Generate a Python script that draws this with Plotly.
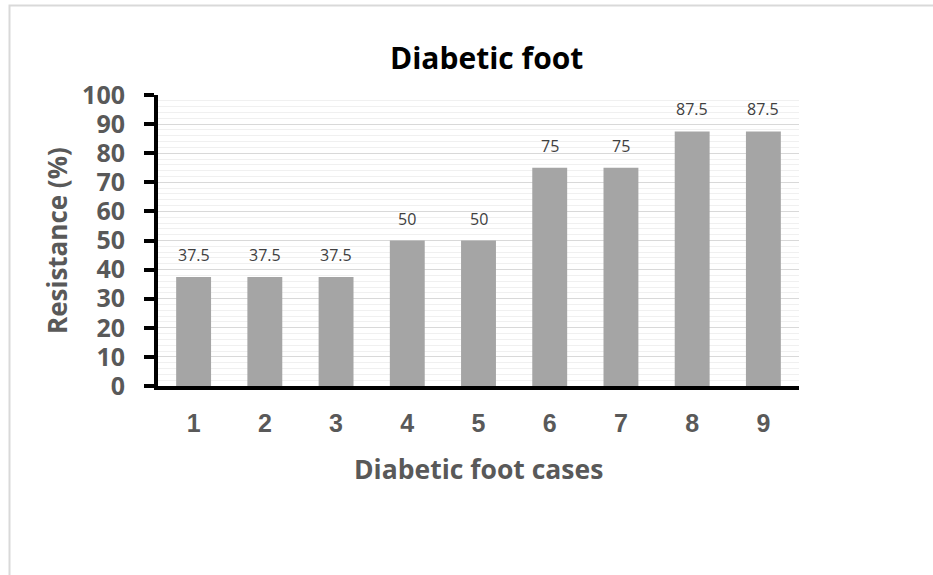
import plotly.graph_objects as go

categories = [1, 2, 3, 4, 5, 6, 7, 8, 9]
resistance = [37.5, 37.5, 37.5, 50, 50, 75, 75, 87.5, 87.5]
y_ticks = [0, 10, 20, 30, 40, 50, 60, 70, 80, 90, 100]

W, H = 933, 575
L, T = 158, 95
pw, ph = 641, 291
R, B = W - L - pw, H - T - ph

def px_x(p):
    return (p - L) / pw

def px_y(p):
    return (T + ph - p) / ph

fig = go.Figure()
fig.add_trace(go.Bar(
    x=categories, y=resistance,
    marker=dict(color="#a5a5a5", line=dict(width=0)),
    hoverinfo="x+y",
))

for c, v in zip(categories, resistance):
    fig.add_annotation(
        x=c, y=v, xref="x", yref="y",
        text=f"{v:g}", showarrow=False,
        yanchor="middle", yshift=22,
        font=dict(family="Open Sans", size=16, color="#404040"),
    )

# titles
fig.add_annotation(
    x=px_x(486), y=px_y(57), xref="paper", yref="paper",
    text="<b>Diabetic foot</b>", showarrow=False,
    xanchor="center", yanchor="middle",
    font=dict(family="Open Sans", size=30, color="#000000"),
)
fig.add_annotation(
    x=px_x(478), y=px_y(469), xref="paper", yref="paper",
    text="<b>Diabetic foot cases</b>", showarrow=False,
    xanchor="center", yanchor="middle",
    font=dict(family="Open Sans", size=26.5, color="#595959"),
)
fig.add_annotation(
    x=px_x(57), y=px_y(241), xref="paper", yref="paper",
    text="<b>Resistance (%)</b>", showarrow=False, textangle=-90,
    xanchor="center", yanchor="middle",
    font=dict(family="Open Sans", size=26, color="#595959"),
)

# chart border
fig.add_shape(
    type="rect", xref="paper", yref="paper",
    x0=px_x(9.5), x1=px_x(W + 40), y0=px_y(H + 40), y1=px_y(5.5),
    line=dict(color="#d9d9d9", width=2), fillcolor="rgba(0,0,0,0)",
    layer="below",
)

fig.update_layout(
    width=W, height=H,
    margin=dict(l=L, r=R, t=T, b=B, pad=0),
    paper_bgcolor="white", plot_bgcolor="white",
    bargap=0.51, showlegend=False,
    font=dict(family="Open Sans"),
)
fig.update_xaxes(
    range=[0.5, 9.5], tickvals=categories, ticktext=[str(c) for c in categories],
    showline=True, linecolor="black", linewidth=4,
    showgrid=False, ticks="", zeroline=False,
    tickfont=dict(family="Liberation Sans", size=25, color="#595959", weight="bold"),
    ticklabelstandoff=12,
)
fig.update_yaxes(
    range=[0, 100], tickvals=y_ticks, ticktext=[str(t) for t in y_ticks],
    showline=True, linecolor="black", linewidth=4,
    ticks="outside", ticklen=10, tickwidth=4, tickcolor="black",
    showgrid=True, gridcolor="#d9d9d9", gridwidth=1,
    minor=dict(dtick=2, tick0=0, showgrid=True, gridcolor="#f0f0f0", gridwidth=1),
    tickfont=dict(family="Open Sans", size=25, color="#595959", weight="bold"),
    ticklabelstandoff=14,
    zeroline=False,
)

fig.write_html(
    "out.html",
    config={"displayModeBar": False},
    post_script="document.body.style.margin='0';document.body.style.overflow='hidden';",
)
